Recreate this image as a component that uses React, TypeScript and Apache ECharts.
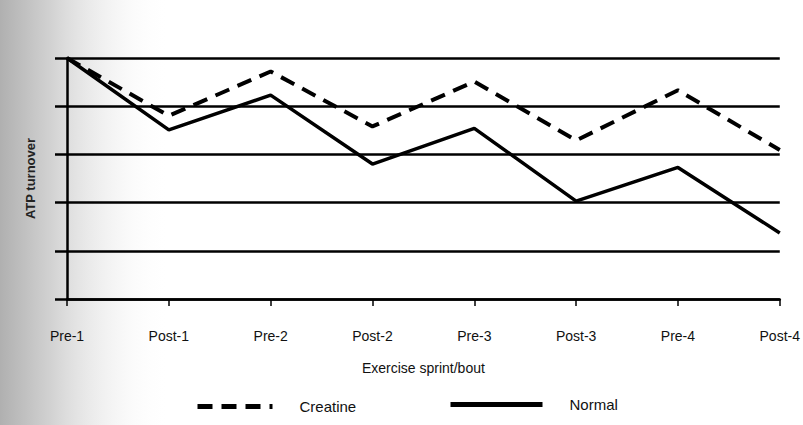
import React, { useEffect, useRef } from "react";
import * as echarts from "echarts";

const categories = ["Pre-1", "Post-1", "Pre-2", "Post-2", "Pre-3", "Post-3", "Pre-4", "Post-4"];
const creatine = [5, 3.8, 4.72, 3.58, 4.51, 3.29, 4.33, 3.09];
const normal = [5, 3.51, 4.23, 2.8, 3.54, 2.03, 2.73, 1.37];

export default function App() {
  const ref = useRef<HTMLDivElement>(null);
  useEffect(() => {
    const chart = echarts.init(ref.current!, null, { renderer: "svg" });
    const font = "'Liberation Sans', Arial, sans-serif";
    chart.setOption({
      animation: false,
      backgroundColor: "#ffffff",
      graphic: [
        {
          type: "rect",
          z: -10,
          silent: true,
          shape: { x: 0, y: 0, width: 170, height: 425 },
          style: {
            fill: new echarts.graphic.LinearGradient(0, 0, 1, 0, [
              { offset: 0, color: "#b0b0b0" },
              { offset: 0.3, color: "#d2d2d2" },
              { offset: 1, color: "rgba(255,255,255,0)" },
            ]),
          },
        },
      ],
      grid: { left: 67, right: 21, top: 58, bottom: 126, containLabel: false },
      xAxis: {
        type: "category",
        data: categories,
        boundaryGap: false,
        axisLine: { lineStyle: { color: "#000", width: 2.5 } },
        axisTick: { show: true, length: 7, lineStyle: { color: "#000", width: 1.5 } },
        axisLabel: { color: "#111", fontSize: 14, fontFamily: font, margin: 30 },
        name: "Exercise sprint/bout",
        nameLocation: "middle",
        nameGap: 62,
        nameTextStyle: { color: "#111", fontSize: 14, fontFamily: font },
      },
      yAxis: {
        type: "value",
        min: 0,
        max: 5,
        interval: 1,
        axisLine: { show: true, lineStyle: { color: "#000", width: 2.5 } },
        axisTick: { show: true, length: 12, lineStyle: { color: "#000", width: 2.5 } },
        axisLabel: { show: false },
        splitLine: { show: true, lineStyle: { color: "#000", width: 2.5 } },
        name: "ATP turnover",
        nameLocation: "middle",
        nameGap: 30,
        nameTextStyle: { color: "#222", fontSize: 13, fontWeight: "bold", fontFamily: font },
      },
      legend: [
        {
          data: ["Creatine"],
          left: 190,
          top: 394,
          itemWidth: 75,
          itemHeight: 8,
          itemStyle: { opacity: 0 },
          lineStyle: { width: 5 },
          textStyle: { color: "#111", fontSize: 15, fontFamily: font, padding: [0, 0, 0, 22] },
        },
        {
          data: ["Normal"],
          left: 443,
          top: 392,
          itemWidth: 92,
          itemHeight: 8,
          itemStyle: { opacity: 0 },
          lineStyle: { width: 5 },
          textStyle: { color: "#111", fontSize: 15, fontFamily: font, padding: [0, 0, 0, 22] },
        },
      ],
      series: [
        {
          name: "Creatine",
          type: "line",
          data: creatine,
          symbol: "none",
          lineStyle: { color: "#000", width: 4, type: [15, 9] },
          itemStyle: { color: "#000" },
          z: 3,
        },
        {
          name: "Normal",
          type: "line",
          data: normal,
          symbol: "none",
          lineStyle: { color: "#000", width: 3.5 },
          itemStyle: { color: "#000" },
          z: 3,
        },
      ],
    });
    return () => chart.dispose();
  }, []);
  return <div ref={ref} style={{ width: 803, height: 425, position: "absolute", left: 0, top: 0 }} />;
}
